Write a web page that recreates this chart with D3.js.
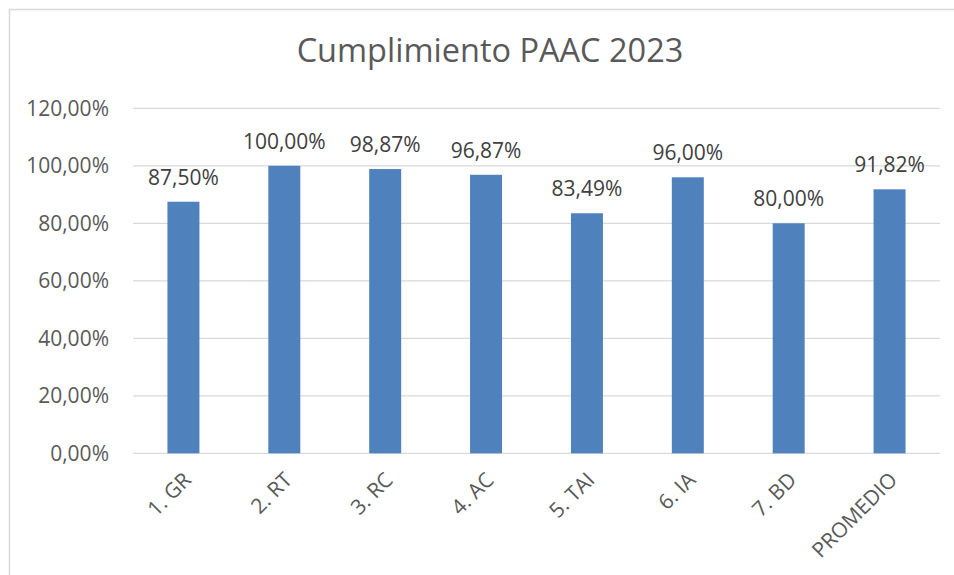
<!DOCTYPE html>
<html>
<head>
<meta charset="utf-8">
<script src="https://cdn.jsdelivr.net/npm/d3@7"></script>
<style>
  html, body { margin: 0; padding: 0; background: #fff; }
  svg { display: block; font-family: "Open Sans", Carlito, Calibri, sans-serif; }
</style>
</head>
<body>
<div id="chart"></div>
<script>
const categories = ["1. GR", "2. RT", "3. RC", "4. AC", "5. TAI", "6. IA", "7. BD", "PROMEDIO"];
const values = [87.50, 100.00, 98.87, 96.87, 83.49, 96.00, 80.00, 91.82];
const yTicks = [0, 20, 40, 60, 80, 100, 120];
const title = "Cumplimiento PAAC 2023";

const fmt = v => v.toFixed(2).replace(".", ",") + "%";
const FONT = "\"Open Sans\", Carlito, Calibri, sans-serif";

function draw() {
  const w = 954, h = 575;
  const margin = { top: 108.3, right: 14, bottom: 121.7, left: 133 };
  const innerW = w - margin.left - margin.right;
  const innerH = h - margin.top - margin.bottom;

  const svg = d3.select("#chart")
    .append("svg")
    .attr("width", w)
    .attr("height", h);

  // chart frame (runs off the right and bottom edges)
  svg.append("rect")
    .attr("x", 9.5)
    .attr("y", 9.5)
    .attr("width", w + 20)
    .attr("height", h + 20)
    .attr("fill", "#fff")
    .attr("stroke", "#d9d9d9")
    .attr("stroke-width", 1.5);

  svg.append("text")
    .attr("x", 490)
    .attr("y", 62)
    .attr("text-anchor", "middle")
    .attr("fill", "#595959")
    .style("font-size", "32.5px")
    .text(title);

  const g = svg.append("g")
    .attr("transform", `translate(${margin.left},${margin.top})`);

  const x = d3.scaleBand()
    .domain(categories)
    .range([0, innerW])
    .paddingInner(0.683)
    .paddingOuter(0.3415);

  const y = d3.scaleLinear()
    .domain([0, 120])
    .range([innerH, 0]);

  // gridlines
  g.append("g")
    .selectAll("line")
    .data(yTicks)
    .join("line")
    .attr("x1", 0)
    .attr("x2", innerW)
    .attr("y1", d => y(d))
    .attr("y2", d => y(d))
    .attr("stroke", "#d9d9d9")
    .attr("stroke-width", 1.3);

  // y axis labels
  g.append("g")
    .call(d3.axisLeft(y).tickValues(yTicks).tickFormat(fmt).tickSize(0).tickPadding(24))
    .call(a => a.select(".domain").remove())
    .selectAll("text")
    .attr("fill", "#595959")
    .style("font-family", FONT)
    .style("font-size", "21px");

  // bars
  g.selectAll("rect.bar")
    .data(values)
    .join("rect")
    .attr("class", "bar")
    .attr("x", (d, i) => x(categories[i]))
    .attr("y", d => y(d))
    .attr("width", x.bandwidth())
    .attr("height", d => innerH - y(d))
    .attr("fill", "#4f81bd");

  // data labels
  g.selectAll("text.lbl")
    .data(values)
    .join("text")
    .attr("class", "lbl")
    .attr("x", (d, i) => x(categories[i]) + x.bandwidth() / 2)
    .attr("y", d => y(d) - 17)
    .attr("text-anchor", "middle")
    .attr("fill", "#404040")
    .style("font-size", "21px")
    .text(d => fmt(d));

  // x axis labels, rotated
  g.append("g")
    .attr("transform", `translate(0,${innerH})`)
    .call(d3.axisBottom(x).tickSize(0).tickPadding(0))
    .call(a => a.select(".domain").remove())
    .selectAll("text")
    .attr("fill", "#595959")
    .style("font-family", FONT)
    .style("font-size", "21px")
    .attr("text-anchor", "end")
    .attr("dy", null)
    .attr("transform", "translate(9,28) rotate(-45)");
}

draw();
</script>
</body>
</html>
